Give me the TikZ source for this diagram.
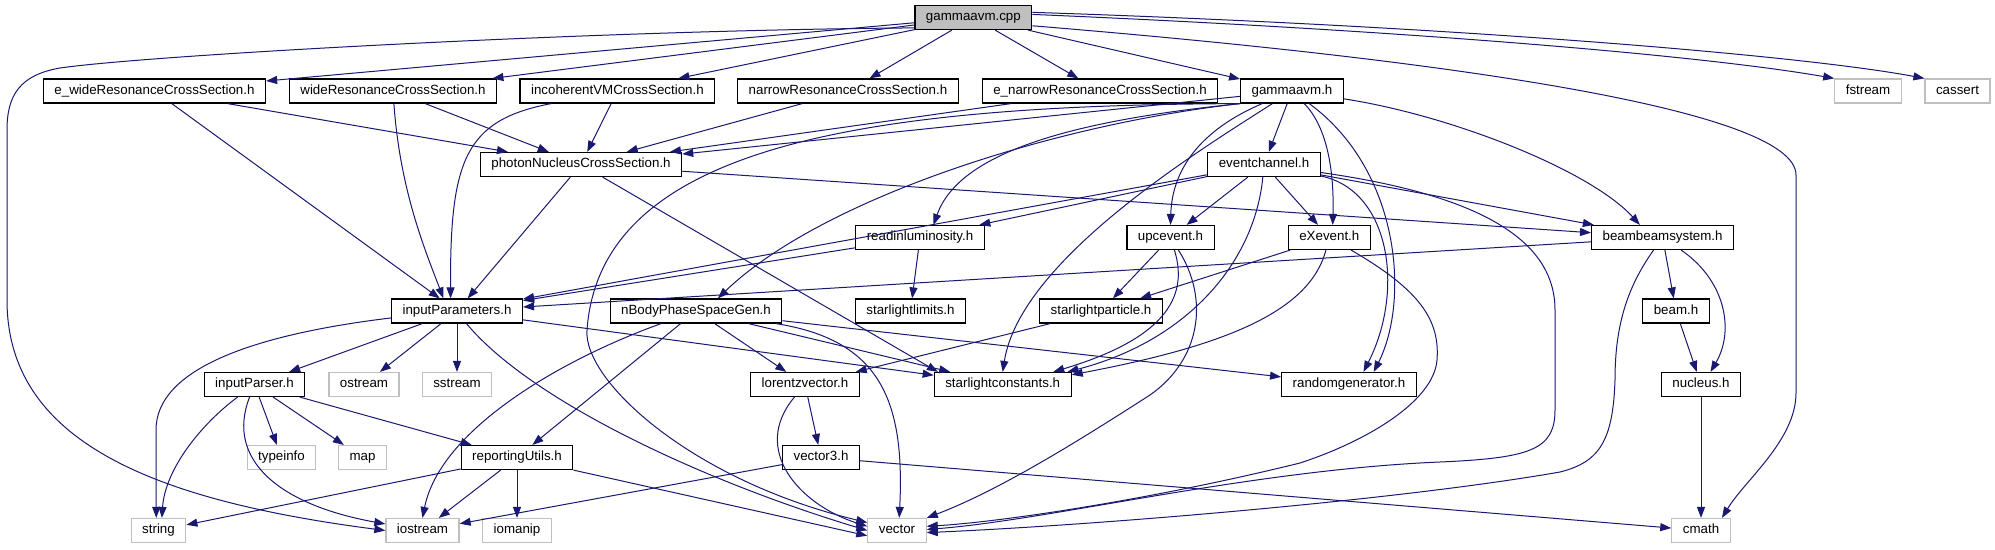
\documentclass[tikz,border=0pt]{standalone}
\usepackage{fontspec}
\setmainfont{Liberation Sans}
\usetikzlibrary{arrows.meta}
\definecolor{edgeblue}{HTML}{191970}
\definecolor{sysgray}{HTML}{BFBFBF}
\begin{document}
\begin{tikzpicture}[x=1pt,y=-1pt,
  base/.style={rectangle, line width=1.2pt, inner xsep=11pt, inner ysep=0pt, minimum height=24pt, text height=9.6pt, text depth=2.8pt, font=\fontsize{13.33}{16}\selectfont},
  hdr/.style={base, draw=black},
  sys/.style={base, draw=sysgray},
  root/.style={base, draw=black, fill=sysgray},
  dep/.style={draw=edgeblue, line width=1pt, -{Triangle[length=11pt,width=8pt]}}]
\fill[white] (0,0) rectangle (1995,549);
\useasboundingbox (0,0) rectangle (1995,549);
% nodes
\node[root] (cpp) at (973.4,17.5) {gammaavm.cpp};
\node[hdr] (ewide) at (154.5,91) {e\_wideResonanceCrossSection.h};
\node[hdr] (wide) at (393,91) {wideResonanceCrossSection.h};
\node[hdr] (incoh) at (617.4,91) {incoherentVMCrossSection.h};
\node[hdr] (narrow) at (848,91) {narrowResonanceCrossSection.h};
\node[hdr] (enarrow) at (1100,91) {e\_narrowResonanceCrossSection.h};
\node[hdr] (gavmh) at (1292,91) {gammaavm.h};
\node[sys] (fstream) at (1868,91) {fstream};
\node[sys] (cassert) at (1957.5,91) {cassert};
\node[hdr] (photon) at (581,164.5) {photonNucleusCrossSection.h};
\node[hdr] (evch) at (1264,164.5) {eventchannel.h};
\node[hdr] (readin) at (920,237.5) {readinluminosity.h};
\node[hdr] (upc) at (1170.5,237.5) {upcevent.h};
\node[hdr] (exev) at (1329.3,237.5) {eXevent.h};
\node[hdr] (bbs) at (1662.6,237.5) {beambeamsystem.h};
\node[hdr] (inpar) at (457,311) {inputParameters.h};
\node[hdr] (nbody) at (696,311) {nBodyPhaseSpaceGen.h};
\node[hdr] (sllim) at (910.5,311) {starlightlimits.h};
\node[hdr] (slpart) at (1101,311) {starlightparticle.h};
\node[hdr] (beam) at (1676,311) {beam.h};
\node[hdr] (inparser) at (254.5,384.5) {inputParser.h};
\node[sys] (ostream) at (364,384.5) {ostream};
\node[sys] (sstream) at (457,384.5) {sstream};
\node[hdr] (lorentz) at (805,384.5) {lorentzvector.h};
\node[hdr] (slconst) at (1002.7,384.5) {starlightconstants.h};
\node[hdr] (randgen) at (1349,384.5) {randomgenerator.h};
\node[hdr] (nucleus) at (1701,384.5) {nucleus.h};
\node[sys] (typeinfo) at (281.5,457.5) {typeinfo};
\node[sys] (map) at (362.5,457.5) {map};
\node[hdr] (reputils) at (517,457.5) {reportingUtils.h};
\node[hdr] (vector3) at (821,457.5) {vector3.h};
\node[sys] (string) at (158.5,530.5) {string};
\node[sys] (iostream) at (422.5,530.5) {iostream};
\node[sys] (iomanip) at (517,530.5) {iomanip};
\node[sys] (vector) at (897,530.5) {vector};
\node[sys] (cmath) at (1701,530.5) {cmath};
% gammaavm.cpp
\draw[dep] (cpp.190) .. controls (600,30) and (150,55) .. (60,68) .. controls (20,75) and (7,95) .. (7,130) -- (7,300) .. controls (7,440) and (150,500) .. (iostream.west);
\draw[dep] (cpp) -- (ewide);
\draw[dep] (cpp) -- (wide);
\draw[dep] (cpp) -- (incoh);
\draw[dep] (cpp) -- (narrow);
\draw[dep] (cpp) -- (enarrow);
\draw[dep] (cpp) -- (gavmh);
\draw[dep] (cpp.3) .. controls (1400,30) and (1700,55) .. (fstream.north west);
\draw[dep] (cpp.5) .. controls (1450,26) and (1800,55) .. (cassert.north west);
\draw[dep] (cpp.-8) .. controls (1450,60) and (1796,110) .. (1796,175) -- (1796,393) .. controls (1796,440) and (1745,480) .. (cmath.31);
% row 2
\draw[dep] (ewide) -- (photon);
\draw[dep] (ewide) -- (inpar);
\draw[dep] (wide) -- (photon);
\draw[dep] (wide) .. controls (400,190) and (425,250) .. (inpar.137);
\draw[dep] (incoh) -- (photon);
\draw[dep] (incoh) .. controls (465,120) and (450,160) .. (inpar.117);
\draw[dep] (narrow) -- (photon);
\draw[dep] (enarrow) -- (photon);
% gammaavm.h
\draw[dep] (gavmh) -- (photon);
\draw[dep] (gavmh.south west) .. controls (850,105) and (600,150) .. (587,330) .. controls (583,380) and (690,480) .. (vector.165);
\draw[dep] (gavmh.south west) .. controls (1050,125) and (820,200) .. (nbody.30);
\draw[dep] (gavmh.south west) .. controls (1080,120) and (960,150) .. (readin.43);
\draw[dep] (gavmh) .. controls (1200,150) and (1020,260) .. (slconst.north);
\draw[dep] (gavmh) .. controls (1200,130) and (1172,170) .. (upc.north);
\draw[dep] (gavmh) -- (evch);
\draw[dep] (gavmh) .. controls (1330,130) and (1334,180) .. (exev.75);
\draw[dep] (gavmh) .. controls (1400,170) and (1410,300) .. (randgen.27);
\draw[dep] (gavmh) .. controls (1450,115) and (1590,170) .. (bbs.151);
% eventchannel.h
\draw[dep] (evch) -- (inpar);
\draw[dep] (evch) -- (readin);
\draw[dep] (evch) -- (upc);
\draw[dep] (evch) -- (exev);
\draw[dep] (evch) .. controls (1255,260) and (1190,340) .. (slconst.11);
\draw[dep] (evch) .. controls (1390,190) and (1405,290) .. (randgen.41);
\draw[dep] (evch) -- (bbs);
\draw[dep] (evch) .. controls (1480,195) and (1555,240) .. (1555,310) -- (1555,410) .. controls (1555,450) and (1530,458) .. (1440,462) .. controls (1250,470) and (1050,520) .. (vector.2);
% photonNucleusCrossSection.h
\draw[dep] (photon) -- (inpar);
\draw[dep] (photon) -- (slconst.169);
\draw[dep] (photon) -- (bbs);
% readinluminosity.h
\draw[dep] (readin) -- (inpar);
\draw[dep] (readin) -- (sllim);
% upcevent.h
\draw[dep] (upc) -- (slpart);
\draw[dep] (upc) .. controls (1190,300) and (1160,340) .. (slconst.14);
\draw[dep] (upc) .. controls (1210,300) and (1200,360) .. (1150,395) .. controls (1080,440) and (1000,490) .. (vector.north east);
% eXevent.h
\draw[dep] (exev) -- (slpart);
\draw[dep] (exev) .. controls (1310,310) and (1230,345) .. (slconst.8);
\draw[dep] (exev) .. controls (1420,290) and (1440,320) .. (1437,360) .. controls (1434,400) and (1370,440) .. (1300,463) .. controls (1150,500) and (1000,522) .. (vector.8);
% beambeamsystem.h
\draw[dep] (bbs) -- (inpar);
\draw[dep] (bbs) -- (beam);
\draw[dep] (bbs) .. controls (1725,280) and (1735,330) .. (nucleus.53);
\draw[dep] (bbs) .. controls (1625,290) and (1615,330) .. (1615,380) .. controls (1613,440) and (1600,462) .. (1560,472) .. controls (1400,500) and (1100,525) .. (vector.-4);
\draw[dep] (beam) -- (nucleus);
\draw[dep] (nucleus) -- (cmath);
% inputParameters.h
\draw[dep] (inpar.186) .. controls (250,335) and (156,370) .. (156,430) -- (string.100);
\draw[dep] (inpar) -- (inparser);
\draw[dep] (inpar) -- (ostream);
\draw[dep] (inpar) -- (sstream);
\draw[dep] (inpar.-53) .. controls (530,400) and (700,480) .. (vector.180);
\draw[dep] (inpar) -- (slconst);
% nBodyPhaseSpaceGen.h
\draw[dep] (nbody) .. controls (560,360) and (440,430) .. (iostream.north);
\draw[dep] (nbody) -- (reputils);
\draw[dep] (nbody) -- (lorentz);
\draw[dep] (nbody) -- (slconst);
\draw[dep] (nbody) .. controls (880,340) and (905,400) .. (vector.80);
\draw[dep] (nbody) -- (randgen);
% starlightparticle.h
\draw[dep] (slpart) -- (lorentz);
% inputParser.h
\draw[dep] (inparser) .. controls (200,425) and (165,470) .. (string.75);
\draw[dep] (inparser) .. controls (225,460) and (280,505) .. (iostream.170);
\draw[dep] (inparser) -- (typeinfo);
\draw[dep] (inparser) -- (map);
\draw[dep] (inparser) -- (reputils);
% reportingUtils.h
\draw[dep] (reputils) -- (string);
\draw[dep] (reputils) -- (iostream);
\draw[dep] (reputils) -- (iomanip);
\draw[dep] (reputils) -- (vector.190);
% lorentzvector.h
\draw[dep] (lorentz) -- (vector3);
\draw[dep] (lorentz) .. controls (750,450) and (800,505) .. (vector.172);
% vector3.h
\draw[dep] (vector3) -- (iostream);
\draw[dep] (vector3) -- (cmath);
\end{tikzpicture}
\end{document}
